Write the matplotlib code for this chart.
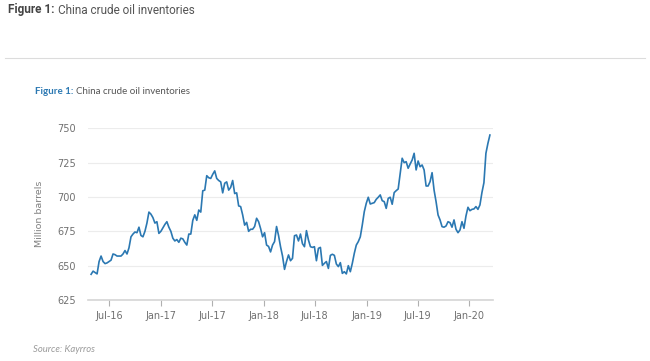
import matplotlib
matplotlib.use("Agg")
import matplotlib.pyplot as plt
import matplotlib.dates as mdates
import pandas as pd
import numpy as np

# Weekly China crude oil inventories (million barrels)
inventories = [
    643.7, 646, 645, 644, 653, 657, 653, 651.5, 652, 653, 654, 658.5, 658, 657, 657,
    657, 658.5, 661, 658.5, 663, 671, 673, 674.5, 674, 678, 672, 671, 675, 681, 689,
    687.5, 685, 681, 682, 673.5, 675, 677.5, 680, 682, 678, 675, 670, 668, 669, 667,
    670, 669.5, 667, 665, 673, 673, 683, 687, 683, 690.5, 689, 704.5, 705, 715.5, 714,
    713.5, 716.5, 719, 713.5, 712, 711, 703, 710, 711, 705, 707, 712, 702.5, 703, 693.5,
    693, 687, 679.5, 681.5, 675, 676.5, 676.5, 678.5, 684.5, 682, 677, 671, 674, 665,
    664, 660, 665, 667.5, 678.5,
    672, 663.8, 657, 647.3, 653, 657.8, 653.6, 655.3, 671.8, 672.3, 668, 673, 666,
    663.8, 675.5, 668.7, 663.8, 663.3, 663.8, 653.6, 662.6, 663.3, 650.2, 651.7, 653,
    648, 657.5, 658.3, 657.5, 651.2, 649.3, 652.2, 644.4, 645.6, 644, 650, 645.6, 651.7,
    659, 665, 667.5, 671, 679.6, 689.3, 695.4, 699.8, 694.9, 695.4, 695.9, 698.3, 699.8,
    701.5, 697.3, 696.6, 691.7, 699, 699.8, 694.7, 703.2, 704.6, 705.8, 717.2, 728.2,
    725, 725.7, 720.9, 724, 726.9, 731.8, 719.7, 726.2, 722, 723.3, 719.7, 708, 708,
    711.2, 717.7, 705, 696.6, 686.9, 683.3, 678.4, 678, 678.9, 682, 681.3, 678, 683.3,
    676.5, 674, 676, 682, 677.2, 686.2, 692.5, 690, 691, 691.3, 693, 691, 694.2, 703.2,
    710.4, 731.8, 739, 745.1,
]
start_date = "2016-04-28"
end_date = "2020-03-14"
dates = pd.date_range(start_date, end_date, periods=len(inventories))

y_ticks = [625, 650, 675, 700, 725, 750]
x_ticks = ["2016-07-01", "2017-01-01", "2017-07-01", "2018-01-01",
           "2018-07-01", "2019-01-01", "2019-07-01", "2020-01-01"]
x_ticklabels = ["Jul-16", "Jan-17", "Jul-17", "Jan-18", "Jul-18", "Jan-19", "Jul-19", "Jan-20"]

fig = plt.figure(figsize=(6.5, 3.61), dpi=100)
fig.patch.set_facecolor("white")
W, H = 650, 361

ax = fig.add_axes([88 / W, 1 - 300 / H, (493 - 88) / W, (300 - 128.3) / H])
ax.plot(dates, inventories, color="#2b78b2", lw=1.2, clip_on=False, zorder=3)
ax.set_ylim(625, 750)
ax.set_xlim(pd.Timestamp("2016-04-17"), pd.Timestamp("2020-03-25"))
ax.set_yticks(y_ticks)
ax.set_xticks(pd.to_datetime(x_ticks))
ax.set_xticklabels(x_ticklabels)
ax.grid(axis="y", color="#ececec", lw=0.8)
ax.set_axisbelow(True)
for s in ["top", "right", "left"]:
    ax.spines[s].set_visible(False)
ax.spines["bottom"].set_color("#d5d5d5")
ax.spines["bottom"].set_linewidth(1.2)
ax.tick_params(axis="y", length=0, pad=9, labelsize=7, labelcolor="#707070")
ax.tick_params(axis="x", length=4, width=0.8, color="#b0b0b0", pad=4,
               labelsize=7, labelcolor="#707070", direction="out")
for lab in ax.get_xticklabels() + ax.get_yticklabels():
    lab.set_family("DejaVu Sans")
ax.set_ylabel("Million barrels", fontsize=6.8, color="#808080", family="DejaVu Sans", labelpad=9)

renderer = fig.canvas.get_renderer()


def two_part(x_px, y_px, bold_txt, rest_txt, size, bold_color, rest_color, family, gap_px):
    t1 = fig.text(x_px / W, 1 - y_px / H, bold_txt, fontsize=size, fontweight="bold",
                  color=bold_color, family=family, va="center", ha="left")
    bb = t1.get_window_extent(renderer=renderer)
    fig.text((bb.x1 + gap_px) / W, 1 - y_px / H, rest_txt, fontsize=size,
             color=rest_color, family=family, va="center", ha="left")


# header
two_part(8, 10, "Figure 1:", "China crude oil inventories", 8.5, "#444444", "#555555", "Roboto", 3)
fig.add_artist(plt.Line2D([5 / W, 645 / W], [1 - 58 / H, 1 - 58 / H], color="#dcdcdc", lw=0.8))

# chart title
two_part(35, 92, "Figure 1:", "China crude oil inventories", 7.0, "#2b78b2", "#555555", "Lato", 3)

fig.text(33 / W, 1 - 350 / H, "Source: Kayrros", fontsize=6.8, style="italic", color="#9a9a9a",
         family="Lato", va="center", ha="left")

fig.savefig("out.png", dpi=100, facecolor="white")
